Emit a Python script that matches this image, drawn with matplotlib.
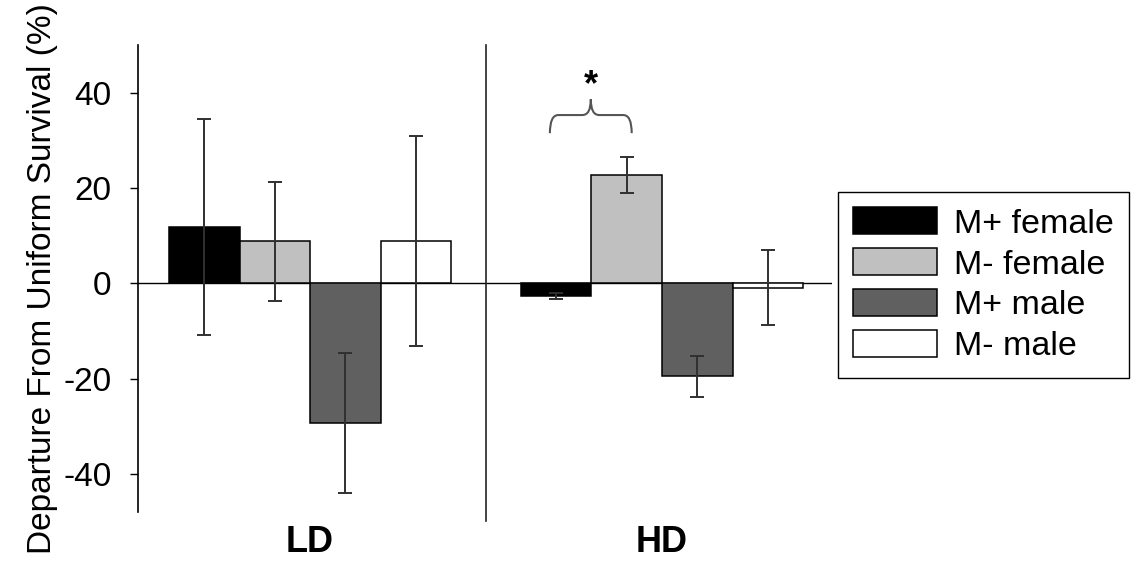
import numpy as np
import matplotlib
matplotlib.use("Agg")
import matplotlib.pyplot as plt
from matplotlib.path import Path
from matplotlib.patches import PathPatch, Patch

plt.rcParams['font.family'] = ['Liberation Sans', 'DejaVu Sans']
plt.rcParams['axes.unicode_minus'] = False

# данные
groups = ['LD', 'HD']
series = ['M+ female', 'M- female', 'M+ male', 'M- male']
m_plus_female = [11.8, -2.6]
m_minus_female = [8.8, 22.8]
m_plus_male = [-29.4, -19.5]
m_minus_male = [8.8, -0.9]
err_plus_female = [22.7, 0.6]
err_minus_female = [12.5, 3.8]
err_plus_male = [14.7, 4.3]
err_minus_male = [22.0, 7.8]

colors = ['#000000', '#c0c0c0', '#606060', '#ffffff']
means = [m_plus_female, m_minus_female, m_plus_male, m_minus_male]
errs = [err_plus_female, err_minus_female, err_plus_male, err_minus_male]

fig = plt.figure(figsize=(11.35, 5.64), dpi=100)
ax = fig.add_axes([138 / 1135, 52 / 564, 694 / 1135, 467 / 564])

centers = np.array([2.44, 7.43])
offsets = [-1.5, -0.5, 0.5, 1.5]
for i in range(4):
    ax.bar(centers + offsets[i], means[i], width=1.0, color=colors[i],
           edgecolor='black', linewidth=1.1, zorder=2)
    ax.errorbar(centers + offsets[i], means[i], yerr=errs[i], fmt='none',
                ecolor='#303030', elinewidth=1.4, capsize=4.8, capthick=1.4, zorder=3)

ax.axhline(0, color='black', linewidth=1.0, zorder=1)
# разделитель между группами
ax.plot([4.94, 4.94], [-49.8, 50], color='#222222', linewidth=1.2, clip_on=False)

ax.set_xlim(0, 9.84)
ax.set_ylim(-48, 50)
ax.set_yticks([-40, -20, 0, 20, 40])
ax.set_xticks(centers)
ax.set_xticklabels(groups, fontsize=26, fontweight='bold')
ax.tick_params(axis='x', length=0, pad=9)
ax.tick_params(axis='y', labelsize=24, length=6, width=1.0, pad=13, direction='out')
for s in ['top', 'right', 'bottom']:
    ax.spines[s].set_visible(False)
ax.spines['left'].set_linewidth(1.2)
ax.set_ylabel('Departure From Uniform Survival (%)', fontsize=24, labelpad=4)

# фигурная скобка и звёздочка
xl, xr, xc = 5.84, 7.0, 6.42
y0, y1, y2 = 31.5, 35.3, 38.6
dx = 0.12
verts = [(xl, y0), (xl, y1), (xl + dx, y1), (xc - dx, y1), (xc, y1), (xc, y2),
         (xc, y1), (xc + dx, y1), (xr - dx, y1), (xr, y1), (xr, y0)]
codes = [Path.MOVETO, Path.CURVE3, Path.CURVE3, Path.LINETO, Path.CURVE3, Path.CURVE3,
         Path.CURVE3, Path.CURVE3, Path.LINETO, Path.CURVE3, Path.CURVE3]
ax.add_patch(PathPatch(Path(verts, codes), facecolor='none', edgecolor='#555555',
                       linewidth=1.5, clip_on=False))
ax.text(xc, 41.5, '*', ha='center', va='center', fontsize=26, fontweight='bold')

handles = [Patch(facecolor=c, edgecolor='black', linewidth=1.1) for c in colors]
leg = fig.legend(handles, series, loc='upper left', bbox_to_anchor=(838 / 1135, 1 - 192 / 564),
                 fontsize=24.5, frameon=True, fancybox=False, edgecolor='black', framealpha=1,
                 handlelength=2.45, handleheight=0.85, handletextpad=0.5, labelspacing=0.25,
                 borderpad=0.45, borderaxespad=0)
leg.get_frame().set_linewidth(1.0)

fig.savefig('out.png', dpi=100)
